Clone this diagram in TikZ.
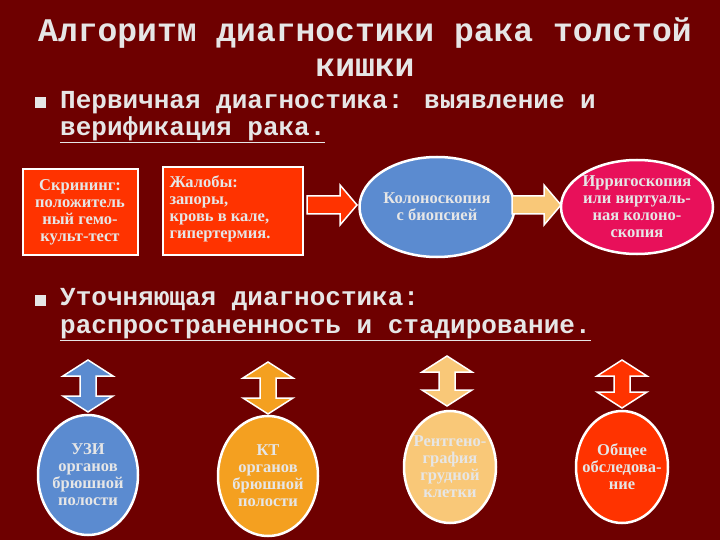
\documentclass[tikz,border=0pt]{standalone}
\usepackage{fontspec}
\setmainfont{Liberation Serif}
\newfontfamily\monof{Liberation Mono}
\usetikzlibrary{shapes.geometric}
\definecolor{bg}{HTML}{6E0000}
\definecolor{txt}{HTML}{E6E6E6}
\definecolor{redb}{HTML}{FF3300}
\definecolor{blueb}{HTML}{5B8BD0}
\definecolor{pinkb}{HTML}{E8105A}
\definecolor{orb}{HTML}{F4A020}
\definecolor{lorb}{HTML}{F9C878}
\begin{document}
\begin{tikzpicture}[x=1pt,y=-1pt,
  ttl/.style={text=txt,font=\monof\bfseries\fontsize{33}{36}\selectfont},
  bul/.style={text=txt,font=\monof\bfseries\fontsize{26}{27}\selectfont,anchor=west,inner sep=0},
  sq/.style={fill=txt,minimum size=11,inner sep=0},
  boxr/.style={fill=redb,draw=white,line width=2,inner sep=0},
  lbl/.style={text=txt,font=\bfseries\fontsize{16.5}{17}\selectfont,align=center},
  ell/.style={ellipse,draw=white,line width=2.5,inner sep=0},
  arr/.style={draw=white,line width=1.5}]
\fill[bg] (0,0) rectangle (720,540);
\useasboundingbox (0,0) rectangle (720,540);
\node[ttl] (t1) at (365,33) {Алгоритм диагностики рака толстой};
\node[ttl] (t2) at (365,68) {кишки};
\node[sq] (s1) at (40,103) {};
\node[bul] (b1) at (60,103) {Первичная диагностика: выявление и};
\node[bul] (b1b) at (60,130) {\underline{верификация рака.}};
% top row
\node[boxr,minimum width=115,minimum height=85] (k1) at (80,212) {};
\node[lbl] at (k1) {Скрининг:\\положитель\\ный гемо-\\культ-тест};
\node[boxr,minimum width=140,minimum height=87] (k2) at (233,211) {};
\node[lbl,align=left,anchor=north west] at (166,172) {Жалобы:\\запоры,\\кровь в кале,\\гипертермия.};
\draw[arr,fill=redb] (307,196)--(340,196)--(340,185)--(357,205)--(340,225)--(340,214)--(307,214)--cycle;
\node[ell,fill=blueb,minimum width=155,minimum height=100] (e1) at (437,207) {};
\node[lbl] at (e1) {Колоноскопия\\с биопсией};
\draw[arr,fill=lorb] (512,196)--(544,196)--(544,185)--(561,205)--(544,225)--(544,214)--(512,214)--cycle;
\node[ell,fill=pinkb,minimum width=152,minimum height=94] (e2) at (637,207) {};
\node[lbl] at (e2) {Ирригоскопия\\или виртуаль-\\ная колоно-\\скопия};
% second bullet
\node[sq] (s2) at (40,300) {};
\node[bul] (b2) at (60,300) {Уточняющая диагностика:};
\node[bul] (b2b) at (60,330) {\underline{распространенность и стадирование.}};
% double arrows
\foreach \x/\c/\yt/\yb in {88/blueb/360/412, 268/orb/362/414, 447/lorb/356/406, 622/redb/360/408}{
  \draw[arr,fill=\c] (\x,\yt)--(\x+25,\yt+16)--(\x+8,\yt+16)--(\x+8,\yb-16)--(\x+25,\yb-16)--(\x,\yb)
    --(\x-25,\yb-16)--(\x-8,\yb-16)--(\x-8,\yt+16)--(\x-25,\yt+16)--cycle;
}
\node[ell,fill=blueb,minimum width=100,minimum height=120] (u1) at (88,475) {};
\node[lbl] at (u1) {УЗИ\\органов\\брюшной\\полости};
\node[ell,fill=orb,minimum width=100,minimum height=120] (u2) at (268,476) {};
\node[lbl] at (u2) {КТ\\органов\\брюшной\\полости};
\node[ell,fill=lorb,minimum width=92,minimum height=112] (u3) at (450,467) {};
\node[lbl] at (u3) {Рентгено-\\графия\\грудной\\клетки};
\node[ell,fill=redb,minimum width=92,minimum height=112] (u4) at (622,467) {};
\node[lbl] at (u4) {Общее\\обследова-\\ние};
\end{tikzpicture}
\end{document}
